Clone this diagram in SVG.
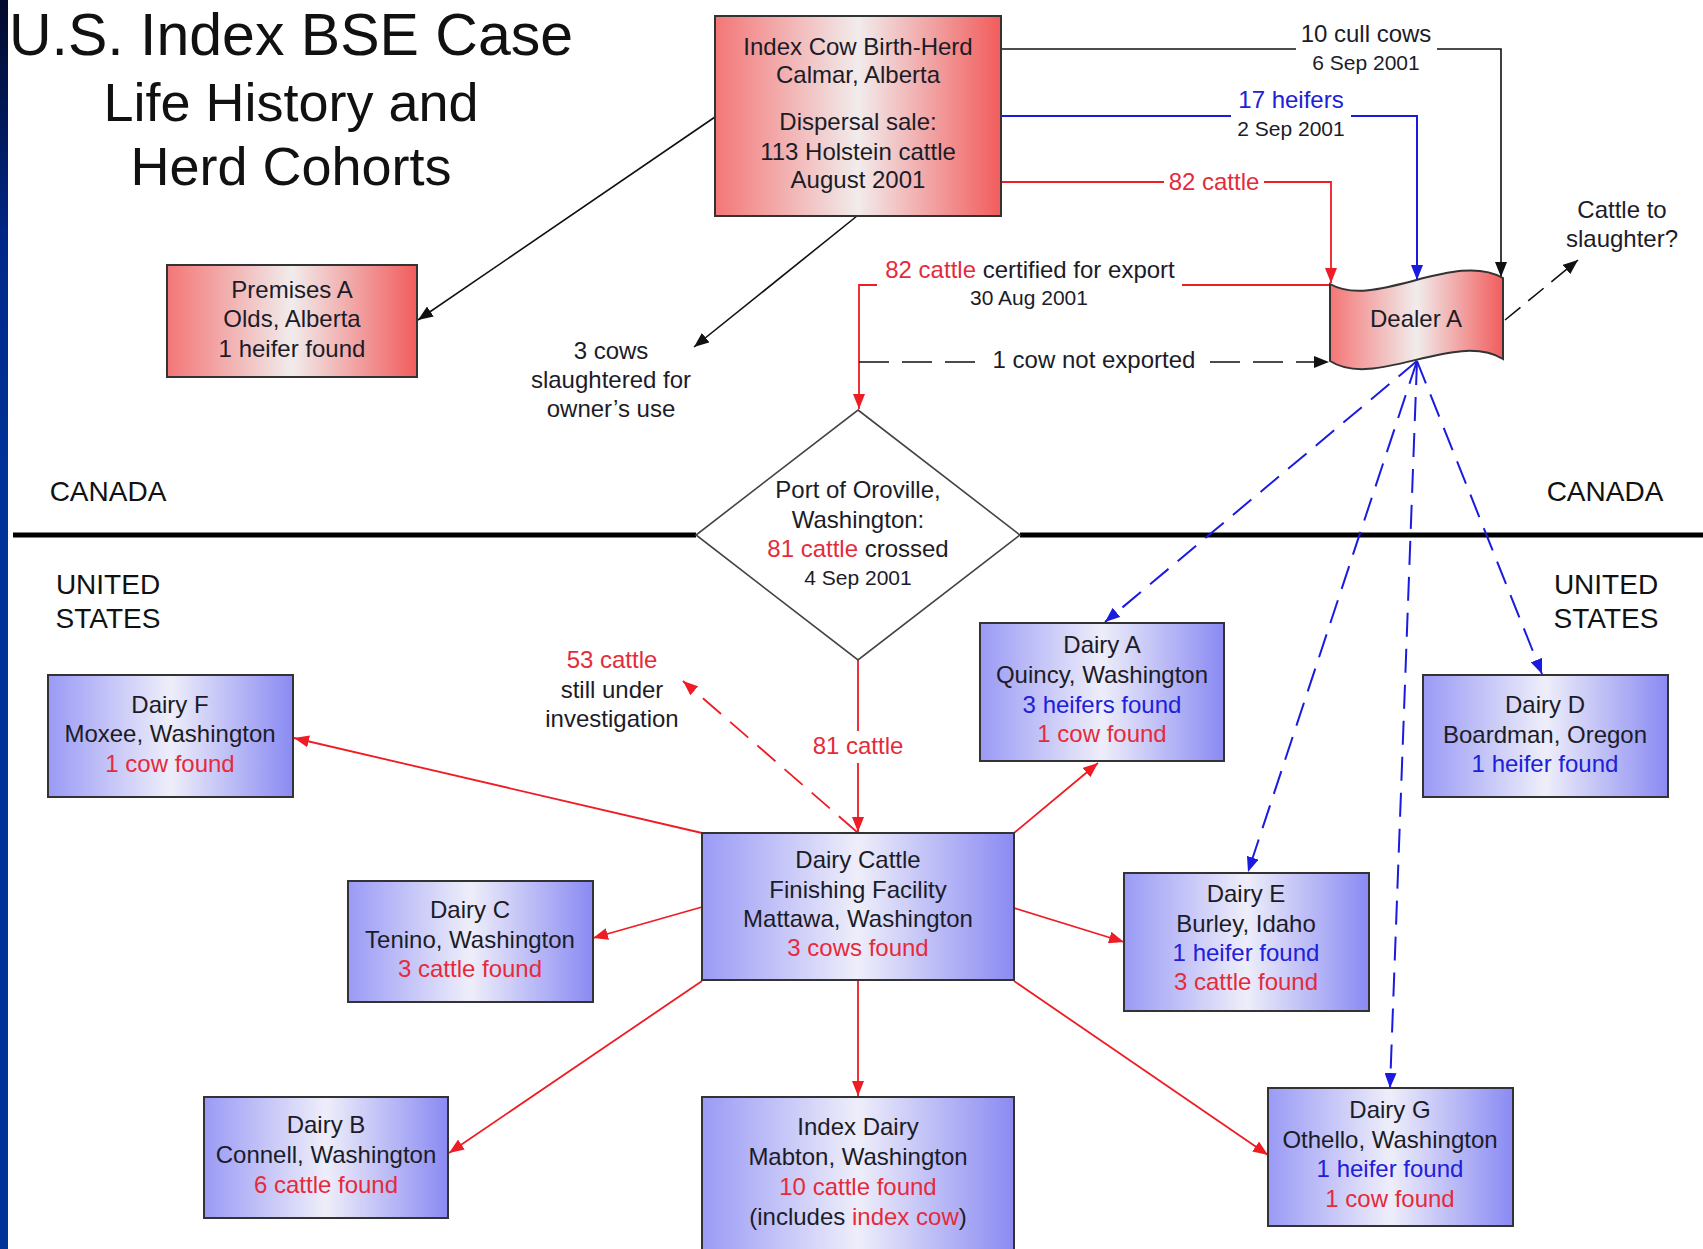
<svg xmlns="http://www.w3.org/2000/svg" width="1703" height="1249" viewBox="0 0 1703 1249">
<defs>
<linearGradient id="gRed" x1="0" y1="0" x2="1" y2="0">
<stop offset="0" stop-color="#f47676"/><stop offset="0.5" stop-color="#f1ecec"/><stop offset="1" stop-color="#f25c5c"/>
</linearGradient>
<linearGradient id="gBlue" x1="0" y1="0" x2="1" y2="0">
<stop offset="0" stop-color="#9a9af6"/><stop offset="0.5" stop-color="#eeeefa"/><stop offset="1" stop-color="#8a8af3"/>
</linearGradient>
<linearGradient id="gBar" x1="0" y1="0" x2="0" y2="1">
<stop offset="0" stop-color="#020a2c"/><stop offset="0.2" stop-color="#00288a"/><stop offset="0.4" stop-color="#003399"/><stop offset="1" stop-color="#003399"/>
</linearGradient>
<marker id="aK" markerUnits="userSpaceOnUse" markerWidth="15" markerHeight="12" refX="15" refY="6" orient="auto"><path d="M0,0 L15,6 L0,12 z" fill="#111"/></marker>
<marker id="aR" markerUnits="userSpaceOnUse" markerWidth="15" markerHeight="12" refX="15" refY="6" orient="auto"><path d="M0,0 L15,6 L0,12 z" fill="#ee1c24"/></marker>
<marker id="aB" markerUnits="userSpaceOnUse" markerWidth="15" markerHeight="12" refX="15" refY="6" orient="auto"><path d="M0,0 L15,6 L0,12 z" fill="#1a1ae0"/></marker>
<style>
text{font-family:"Liberation Sans",Arial,sans-serif;fill:#1c1c28;}
.t{font-size:24px;text-anchor:middle;}
.d{font-size:21px;text-anchor:middle;}
.big{font-size:28px;text-anchor:middle;fill:#111;}
.title{font-size:59px;text-anchor:middle;fill:#111;}
.title2{font-size:54px;text-anchor:middle;fill:#111;}
.r{fill:#e52b3b;}
.b{fill:#2020d8;}
.boxR{fill:url(#gRed);stroke:#333;stroke-width:2;}
.boxB{fill:url(#gBlue);stroke:#333;stroke-width:2;}
.lk{fill:none;stroke:#111;stroke-width:1.6;}
.lr{fill:none;stroke:#ee1c24;stroke-width:1.8;}
.lb{fill:none;stroke:#1a1ae0;stroke-width:2;}
.dash{stroke-dasharray:30 13;}
.dashb{stroke-dasharray:24 12;}
</style>
</defs>
<rect x="0" y="0" width="1703" height="1249" fill="#ffffff"/>
<rect x="0" y="0" width="8" height="1249" fill="url(#gBar)"/>

<g id="title">
<text class="title" x="291" y="55">U.S. Index BSE Case</text>
<text class="title2" x="291" y="121">Life History and</text>
<text class="title2" x="291" y="185">Herd Cohorts</text>
</g>

<g id="border">
<line x1="13" y1="535" x2="696" y2="535" stroke="#000" stroke-width="5"/>
<line x1="1020" y1="535" x2="1703" y2="535" stroke="#000" stroke-width="5"/>
<text class="big" x="108" y="501">CANADA</text>
<text class="big" x="108" y="594">UNITED</text>
<text class="big" x="108" y="628">STATES</text>
<text class="big" x="1605" y="501">CANADA</text>
<text class="big" x="1606" y="594">UNITED</text>
<text class="big" x="1606" y="628">STATES</text>
</g>

<g id="connectors">
<path class="lk" d="M1001,49 H1296"/>
<path class="lk" d="M1437,49 H1501 V277" marker-end="url(#aK)"/>
<path class="lb" d="M1001,116 H1231"/>
<path class="lb" d="M1351,116 H1417 V280" marker-end="url(#aB)"/>
<path class="lr" d="M1001,182 H1164"/>
<path class="lr" d="M1264,182 H1331 V283" marker-end="url(#aR)"/>
<path class="lr" d="M1182,285 H1330"/>
<path class="lr" d="M877,285 H859 V409" marker-end="url(#aR)"/>
<path class="lk dash" d="M859,362 H980"/>
<path class="lk dash" d="M1210,362 H1329" marker-end="url(#aK)"/>
<path class="lk" d="M715,117 L418,320" marker-end="url(#aK)"/>
<path class="lk" d="M857,216 L694,347" marker-end="url(#aK)"/>
<path class="lk" d="M1505,320 L1578,260" stroke-dasharray="20 10" marker-end="url(#aK)"/>
<path class="lb dashb" d="M1417,361 L1105,622" marker-end="url(#aB)"/>
<path class="lb dashb" d="M1417,361 L1248,872" marker-end="url(#aB)"/>
<path class="lb dashb" d="M1417,361 L1390,1088" marker-end="url(#aB)"/>
<path class="lb dashb" d="M1417,361 L1542,674" marker-end="url(#aB)"/>
<path class="lr" d="M858,660 V731"/>
<path class="lr" d="M858,763 V832" marker-end="url(#aR)"/>
<path class="lr dashb" d="M857,832 L683,681" marker-end="url(#aR)"/>
<path class="lr" d="M702,833 L294,738" marker-end="url(#aR)"/>
<path class="lr" d="M1014,833 L1098,763" marker-end="url(#aR)"/>
<path class="lr" d="M702,907 L593,938" marker-end="url(#aR)"/>
<path class="lr" d="M702,981 L449,1153" marker-end="url(#aR)"/>
<path class="lr" d="M858,980 V1096" marker-end="url(#aR)"/>
<path class="lr" d="M1014,908 L1124,942" marker-end="url(#aR)"/>
<path class="lr" d="M1014,981 L1268,1155" marker-end="url(#aR)"/>
<text class="t" x="1366" y="42">10 cull cows</text>
<text class="d" x="1366" y="70">6 Sep 2001</text>
<text class="t b" x="1291" y="108">17 heifers</text>
<text class="d" x="1291" y="136">2 Sep 2001</text>
<text class="t r" x="1214" y="190">82 cattle</text>
<text class="t" x="1030" y="278"><tspan class="r">82 cattle</tspan> certified for export</text>
<text class="d" x="1029" y="305">30 Aug 2001</text>
<text class="t" x="1094" y="368">1 cow not exported</text>
<text class="t" x="611" y="359">3 cows</text>
<text class="t" x="611" y="388">slaughtered for</text>
<text class="t" x="611" y="417">owner’s use</text>
<text class="t" x="1622" y="218">Cattle to</text>
<text class="t" x="1622" y="247">slaughter?</text>
<text class="t r" x="858" y="754">81 cattle</text>
<text class="t r" x="612" y="668">53 cattle</text>
<text class="t" x="612" y="698">still under</text>
<text class="t" x="612" y="727">investigation</text>
</g>

<g id="index-cow">
<rect class="boxR" x="715" y="16" width="286" height="200"/>
<text class="t" x="858" y="55">Index Cow Birth-Herd</text>
<text class="t" x="858" y="83">Calmar, Alberta</text>
<text class="t" x="858" y="130">Dispersal sale:</text>
<text class="t" x="858" y="160">113 Holstein cattle</text>
<text class="t" x="858" y="188">August 2001</text>
</g>

<g id="premises-a">
<rect class="boxR" x="167" y="265" width="250" height="112"/>
<text class="t" x="292" y="298">Premises A</text>
<text class="t" x="292" y="327">Olds, Alberta</text>
<text class="t" x="292" y="357">1 heifer found</text>
</g>

<g id="dealer-a">
<path d="M1330,284 C1375,310 1455,250 1503,278 L1503,359 C1455,330 1375,390 1330,361 Z" fill="url(#gRed)" stroke="#333" stroke-width="2"/>
<text class="t" x="1416" y="327">Dealer A</text>
</g>

<g id="port-oroville">
<path d="M858,410 L1020,535 L858,660 L696,535 Z" fill="#ffffff" stroke="#444" stroke-width="1.6"/>
<text class="t" x="858" y="498">Port of Oroville,</text>
<text class="t" x="858" y="528">Washington:</text>
<text class="t" x="858" y="557"><tspan class="r">81 cattle</tspan> crossed</text>
<text class="d" x="858" y="585">4 Sep 2001</text>
</g>

<g id="dairy-f">
<rect class="boxB" x="48" y="675" width="245" height="122"/>
<text class="t" x="170" y="713">Dairy F</text>
<text class="t" x="170" y="742">Moxee, Washington</text>
<text class="t r" x="170" y="772">1 cow found</text>
</g>

<g id="dairy-a">
<rect class="boxB" x="980" y="623" width="244" height="138"/>
<text class="t" x="1102" y="653">Dairy A</text>
<text class="t" x="1102" y="683">Quincy, Washington</text>
<text class="t b" x="1102" y="713">3 heifers found</text>
<text class="t r" x="1102" y="742">1 cow found</text>
</g>

<g id="dairy-d">
<rect class="boxB" x="1423" y="675" width="245" height="122"/>
<text class="t" x="1545" y="713">Dairy D</text>
<text class="t" x="1545" y="743">Boardman, Oregon</text>
<text class="t b" x="1545" y="772">1 heifer found</text>
</g>

<g id="finishing-facility">
<rect class="boxB" x="702" y="833" width="312" height="147"/>
<text class="t" x="858" y="868">Dairy Cattle</text>
<text class="t" x="858" y="898">Finishing Facility</text>
<text class="t" x="858" y="927">Mattawa, Washington</text>
<text class="t r" x="858" y="956">3 cows found</text>
</g>

<g id="dairy-c">
<rect class="boxB" x="348" y="881" width="245" height="121"/>
<text class="t" x="470" y="918">Dairy C</text>
<text class="t" x="470" y="948">Tenino, Washington</text>
<text class="t r" x="470" y="977">3 cattle found</text>
</g>

<g id="dairy-e">
<rect class="boxB" x="1124" y="873" width="245" height="138"/>
<text class="t" x="1246" y="902">Dairy E</text>
<text class="t" x="1246" y="932">Burley, Idaho</text>
<text class="t b" x="1246" y="961">1 heifer found</text>
<text class="t r" x="1246" y="990">3 cattle found</text>
</g>

<g id="dairy-b">
<rect class="boxB" x="204" y="1097" width="244" height="121"/>
<text class="t" x="326" y="1133">Dairy B</text>
<text class="t" x="326" y="1163">Connell, Washington</text>
<text class="t r" x="326" y="1193">6 cattle found</text>
</g>

<g id="index-dairy">
<rect class="boxB" x="702" y="1097" width="312" height="170"/>
<text class="t" x="858" y="1135">Index Dairy</text>
<text class="t" x="858" y="1165">Mabton, Washington</text>
<text class="t r" x="858" y="1195">10 cattle found</text>
<text class="t" x="858" y="1225">(includes <tspan class="r">index cow</tspan>)</text>
</g>

<g id="dairy-g">
<rect class="boxB" x="1268" y="1088" width="245" height="138"/>
<text class="t" x="1390" y="1118">Dairy G</text>
<text class="t" x="1390" y="1148">Othello, Washington</text>
<text class="t b" x="1390" y="1177">1 heifer found</text>
<text class="t r" x="1390" y="1207">1 cow found</text>
</g>
</svg>
